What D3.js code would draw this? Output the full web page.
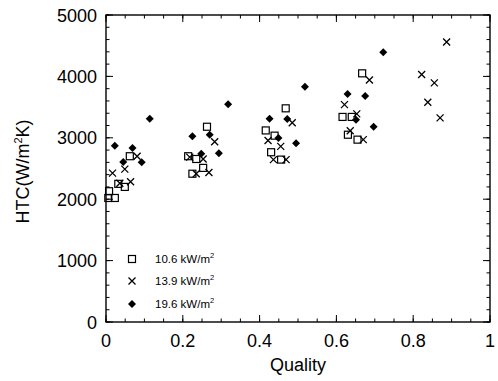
<!DOCTYPE html>
<html>
<head>
<meta charset="utf-8">
<script src="https://cdn.jsdelivr.net/npm/d3@7"></script>
<style>
  body { margin: 0; background: #fff; }
  text { font-family: "Liberation Sans", Arial, sans-serif; fill: #000; }
</style>
</head>
<body>
<svg id="chart" width="498" height="381"></svg>
<script>
// series: [quality, HTC]
var q10 = [[0.008, 2130], [0.006, 2020], [0.023, 2020], [0.032, 2250], [0.049, 2200], [0.062, 2700],
  [0.263, 3180], [0.214, 2700], [0.235, 2655], [0.225, 2415], [0.253, 2510],
  [0.416, 3120], [0.439, 3035], [0.430, 2765], [0.456, 2645], [0.468, 3480],
  [0.667, 4050], [0.616, 3340], [0.640, 3340], [0.630, 3050], [0.655, 2970]];
var q13 = [[0.017, 2425], [0.049, 2490], [0.036, 2260], [0.064, 2285], [0.081, 2700],
  [0.283, 2935], [0.218, 2685], [0.253, 2655], [0.235, 2415], [0.268, 2435],
  [0.422, 2955], [0.455, 2860], [0.436, 2645], [0.469, 2645], [0.485, 3245],
  [0.686, 3940], [0.621, 3540], [0.653, 3390], [0.636, 3115], [0.670, 2970],
  [0.887, 4560], [0.822, 4030], [0.855, 3895], [0.838, 3580], [0.870, 3325]];
var q19 = [[0.023, 2870], [0.114, 3310], [0.045, 2605], [0.069, 2835], [0.093, 2600],
  [0.318, 3545], [0.225, 3025], [0.248, 2740], [0.270, 3050], [0.294, 2750],
  [0.426, 3310], [0.449, 2995], [0.472, 3305], [0.495, 2910], [0.518, 3830],
  [0.722, 4395], [0.629, 3715], [0.675, 3680], [0.651, 3295], [0.697, 3180]];

var legendNames = ["10.6 kW/m", "13.9 kW/m", "19.6 kW/m"];
var xTicks = [0, 0.2, 0.4, 0.6, 0.8, 1];
var xTickLabels = ["0", "0.2", "0.4", "0.6", "0.8", "1"];
var yTicks = [0, 1000, 2000, 3000, 4000, 5000];

var svg = d3.select("#chart");
var pLeft = 106, pRight = 490, pTop = 15, pBottom = 322;

var x = d3.scaleLinear().domain([0, 1]).range([pLeft, pRight]);
var y = d3.scaleLinear().domain([0, 5000]).range([pBottom, pTop]);

var g = svg.append("g");

// frame
g.append("rect")
  .attr("x", pLeft).attr("y", pTop)
  .attr("width", pRight - pLeft).attr("height", pBottom - pTop)
  .attr("fill", "none").attr("stroke", "#000").attr("stroke-width", 1.4);

// ticks on all four sides, pointing inwards
var xMinor = d3.range(0, 1.0001, 0.05);
var yMinor = d3.range(0, 5001, 200);

function tickSet(vals, len, horiz) {
  vals.forEach(function(v) {
    if (horiz) {
      g.append("line").attr("x1", x(v)).attr("x2", x(v)).attr("y1", pBottom).attr("y2", pBottom - len).attr("stroke", "#000");
      g.append("line").attr("x1", x(v)).attr("x2", x(v)).attr("y1", pTop).attr("y2", pTop + len).attr("stroke", "#000");
    } else {
      g.append("line").attr("y1", y(v)).attr("y2", y(v)).attr("x1", pLeft).attr("x2", pLeft + len).attr("stroke", "#000");
      g.append("line").attr("y1", y(v)).attr("y2", y(v)).attr("x1", pRight).attr("x2", pRight - len).attr("stroke", "#000");
    }
  });
}
tickSet(xMinor, 3.5, true);
tickSet(xTicks, 7, true);
tickSet(yMinor, 3.5, false);
tickSet(yTicks, 7, false);

// tick labels
g.selectAll(".xl").data(xTicks).enter().append("text")
  .attr("x", function(d) { return x(d); })
  .attr("y", 347)
  .attr("text-anchor", "middle")
  .attr("font-size", 18)
  .text(function(d, i) { return xTickLabels[i]; });

g.selectAll(".yl").data(yTicks).enter().append("text")
  .attr("x", 97)
  .attr("y", function(d) { return y(d) + 6.5; })
  .attr("text-anchor", "end")
  .attr("font-size", 18)
  .text(function(d) { return d; });

// axis titles
g.append("text").attr("x", x(0.5)).attr("y", 371)
  .attr("text-anchor", "middle").attr("font-size", 18).text("Quality");

var yl = g.append("text")
  .attr("transform", "translate(29," + ((pTop + pBottom) / 2 + 3) + ") rotate(-90)")
  .attr("text-anchor", "middle").attr("font-size", 18);
yl.append("tspan").text("HTC(W/m");
yl.append("tspan").attr("font-size", 11).attr("dy", -7).text("2");
yl.append("tspan").attr("dy", 7).text("K)");

// markers
function square(sel, s) {
  sel.append("rect").attr("x", -s / 2).attr("y", -s / 2).attr("width", s).attr("height", s)
    .attr("fill", "none").attr("stroke", "#000").attr("stroke-width", 1.2);
}
function cross(sel, s) {
  sel.append("path").attr("d", "M" + (-s / 2) + "," + (-s / 2) + "L" + (s / 2) + "," + (s / 2) +
      "M" + (-s / 2) + "," + (s / 2) + "L" + (s / 2) + "," + (-s / 2))
    .attr("stroke", "#000").attr("stroke-width", 1.3).attr("fill", "none");
}
function diamond(sel, s) {
  var h = s / 2 + 0.5;
  sel.append("path").attr("d", "M0," + (-h) + "L" + h + ",0L0," + h + "L" + (-h) + ",0Z")
    .attr("fill", "#000");
}

var series = [
  { data: q10, draw: square, size: 7 },
  { data: q13, draw: cross, size: 7 },
  { data: q19, draw: diamond, size: 7 }
];

series.forEach(function(s) {
  g.selectAll(null).data(s.data).enter().append("g")
    .attr("transform", function(d) { return "translate(" + x(d[0]) + "," + y(d[1]) + ")"; })
    .each(function() { s.draw(d3.select(this), s.size); });
});

// legend
var legY = [259, 281, 304];
series.forEach(function(s, i) {
  var lg = g.append("g").attr("transform", "translate(132," + legY[i] + ")");
  s.draw(lg, s.size);
  var t = g.append("text").attr("x", 155).attr("y", legY[i] + 4).attr("font-size", 11.5);
  t.append("tspan").text(legendNames[i]);
  t.append("tspan").attr("font-size", 7.5).attr("dy", -5).text("2");
});
</script>
</body>
</html>
